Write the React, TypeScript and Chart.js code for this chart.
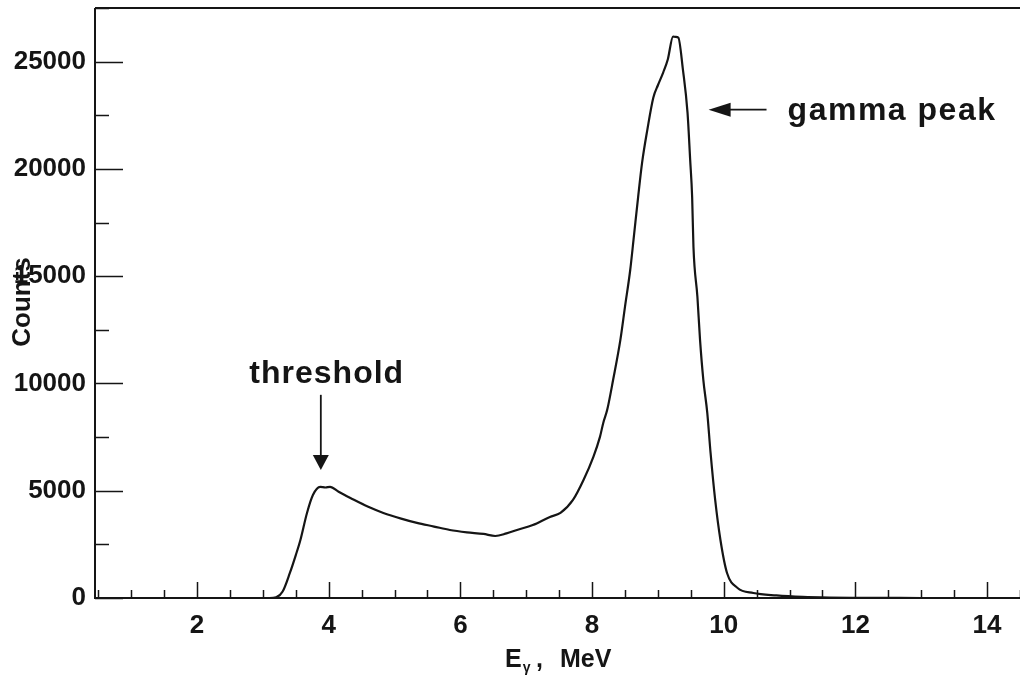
import React, { useEffect, useRef } from "react";
import { Chart, registerables } from "chart.js";

Chart.register(...registerables);

// Energy (MeV) of each read point
const energy: number[] = [
  0.45, 1, 2, 3, 3.1, 3.2, 3.3, 3.41, 3.5, 3.57, 3.67, 3.76, 3.87, 3.95, 4.02, 4.15,
  4.33, 4.6, 4.83, 5.1, 5.34, 5.6, 5.84, 6.1, 6.35, 6.53, 6.7, 6.86, 7.1, 7.36, 7.52,
  7.71, 7.87, 8.02, 8.12, 8.17, 8.23, 8.32, 8.43, 8.5, 8.58, 8.63, 8.7, 8.76, 8.84,
  8.93, 9.0, 9.08, 9.15, 9.23, 9.27, 9.31, 9.38, 9.45, 9.49, 9.52, 9.54, 9.6, 9.64,
  9.69, 9.75, 9.8, 9.87, 9.95, 10.05, 10.21, 10.45, 10.8, 11.2, 11.6, 12, 12.5, 13, 14.5,
];
// Counts at those energies
const counts: number[] = [
  0, 0, 0, 0, 0, 30, 300, 1166, 2000, 2705, 3965, 4800, 5180, 5150, 5180, 4950,
  4660, 4250, 3965, 3700, 3500, 3330, 3170, 3060, 2985, 2890, 3010, 3170, 3400, 3780, 3965,
  4570, 5500, 6580, 7510, 8160, 8770, 10170, 12030, 13570, 15300, 16700, 18700, 20290, 21830,
  23320, 23900, 24490, 25100, 26170, 26150, 26120, 24630, 22620, 20430, 18700, 16370, 14040, 12030,
  10170, 8630, 6760, 4570, 2705, 1166, 466, 233, 120, 50, 20, 10, 5, 0, 0,
];

const xTickLabels: number[] = [2, 4, 6, 8, 10, 12, 14];
const yTickLabels: number[] = [0, 5000, 10000, 15000, 20000, 25000];

const xMin = 0.45;
const xMax = 14.5;
const yMin = 0;
const yMax = 27500;

// Annotations (data coordinates)
const thresholdText = { label: "threshold", x: 3.97, y: 10030 };
const thresholdArrow = { x: 3.88, yFrom: 9470, yTo: 5970 };
const gammaText = { label: "gamma peak", x: 10.97, y: 22300 };
const gammaArrow = { y: 22760, xFrom: 10.65, xTo: 9.77 };

const FONT = '"Liberation Sans", Arial, Helvetica, sans-serif';
const INK = "#151515";

const decorPlugin = {
  id: "decor",
  afterDraw(chart: any) {
    const ctx = chart.ctx as CanvasRenderingContext2D;
    const { left, right, top, bottom } = chart.chartArea;
    const xs = chart.scales.x;
    const ys = chart.scales.y;
    ctx.save();
    ctx.strokeStyle = INK;
    ctx.fillStyle = INK;
    // frame
    ctx.lineWidth = 2;
    ctx.beginPath();
    ctx.moveTo(left, top);
    ctx.lineTo(right, top);
    ctx.moveTo(left, top);
    ctx.lineTo(left, bottom);
    ctx.lineTo(right, bottom);
    ctx.stroke();

    // inward ticks on x
    ctx.lineWidth = 1.5;
    ctx.beginPath();
    for (let k = 1; k <= 29; k++) {
      const v = k * 0.5;
      if (v < xMin || v > xMax) continue;
      const px = Math.round(xs.getPixelForValue(v)) + 0.5;
      const major = Math.abs(v / 2 - Math.round(v / 2)) < 1e-6;
      const len = major ? 16 : 8;
      ctx.moveTo(px, bottom);
      ctx.lineTo(px, bottom - len);
    }
    // inward ticks on y
    for (let v = 0; v <= yMax; v += 2500) {
      const py = Math.round(ys.getPixelForValue(v)) + 0.5;
      const major = v % 5000 === 0;
      const len = major ? 28 : 14;
      ctx.moveTo(left, py);
      ctx.lineTo(left + len, py);
    }
    ctx.stroke();

    // threshold annotation
    ctx.textBaseline = "alphabetic";
    ctx.font = `bold 32px ${FONT}`;
    (ctx as any).letterSpacing = "1px";
    ctx.textAlign = "center";
    ctx.fillText(thresholdText.label, xs.getPixelForValue(thresholdText.x), ys.getPixelForValue(thresholdText.y));
    const ax = xs.getPixelForValue(thresholdArrow.x);
    const ay0 = ys.getPixelForValue(thresholdArrow.yFrom);
    const ay1 = ys.getPixelForValue(thresholdArrow.yTo);
    ctx.lineWidth = 1.8;
    ctx.beginPath();
    ctx.moveTo(ax, ay0);
    ctx.lineTo(ax, ay1 - 12);
    ctx.stroke();
    ctx.beginPath();
    ctx.moveTo(ax - 8, ay1 - 15);
    ctx.lineTo(ax + 8, ay1 - 15);
    ctx.lineTo(ax, ay1);
    ctx.closePath();
    ctx.fill();

    // gamma peak annotation
    ctx.textAlign = "left";
    (ctx as any).letterSpacing = "1.5px";
    ctx.fillText(gammaText.label, xs.getPixelForValue(gammaText.x), ys.getPixelForValue(gammaText.y));
    (ctx as any).letterSpacing = "0px";
    const gy = ys.getPixelForValue(gammaArrow.y);
    const gx0 = xs.getPixelForValue(gammaArrow.xFrom);
    const gx1 = xs.getPixelForValue(gammaArrow.xTo);
    ctx.beginPath();
    ctx.moveTo(gx0, gy);
    ctx.lineTo(gx1 + 12, gy);
    ctx.stroke();
    ctx.beginPath();
    ctx.moveTo(gx1 + 22, gy - 7);
    ctx.lineTo(gx1 + 22, gy + 7);
    ctx.lineTo(gx1, gy);
    ctx.closePath();
    ctx.fill();

    // y axis title
    ctx.save();
    ctx.translate(30, 302);
    ctx.rotate(-Math.PI / 2);
    ctx.textAlign = "center";
    ctx.font = `bold 26px ${FONT}`;
    ctx.fillText("Counts", 0, 0);
    ctx.restore();

    // x axis title: E_gamma , MeV
    ctx.textAlign = "left";
    ctx.font = `bold 25px ${FONT}`;
    let tx = 505;
    const base = 667;
    ctx.fillText("E", tx, base);
    tx += ctx.measureText("E").width + 1;
    ctx.font = `bold 14px ${FONT}`;
    ctx.fillText("γ", tx, base + 5);
    ctx.font = `bold 25px ${FONT}`;
    ctx.fillText(",", 536, base);
    ctx.fillText("MeV", 560, base);
    ctx.restore();
  },
};

export default function App() {
  const ref = useRef<HTMLCanvasElement | null>(null);

  useEffect(() => {
    if (!ref.current) return;
    const data = energy.map((e, i) => ({ x: e, y: counts[i] }));
    const chart = new Chart(ref.current, {
      type: "line",
      data: {
        datasets: [
          {
            data,
            borderColor: INK,
            borderWidth: 2.2,
            pointRadius: 0,
            fill: false,
            cubicInterpolationMode: "monotone",
          },
        ],
      },
      options: {
        animation: false,
        responsive: true,
        maintainAspectRatio: false,
        layout: { padding: { top: 8, right: 0, bottom: 0, left: 0 } },
        plugins: { legend: { display: false }, tooltip: { enabled: false } },
        scales: {
          x: {
            type: "linear",
            min: xMin,
            max: xMax,
            grid: { display: false, drawTicks: false },
            border: { display: false },
            ticks: {
              stepSize: 0.5,
              autoSkip: false,
              maxRotation: 0,
              padding: 12,
              color: INK,
              font: { family: FONT, size: 26, weight: "bold" },
              callback: (v: any) => {
                const n = Number(v);
                return xTickLabels.some((t) => Math.abs(t - n) < 1e-6) ? String(Math.round(n)) : "";
              },
            },
            afterFit: (s: any) => {
              s.height = 78;
              s.paddingLeft = 0;
              s.paddingRight = 0;
              s.paddingTop = 0;
              s.paddingBottom = 0;
            },
          },
          y: {
            type: "linear",
            min: yMin,
            max: yMax,
            grid: { display: false, drawTicks: false },
            border: { display: false },
            ticks: {
              stepSize: 2500,
              autoSkip: false,
              padding: 9,
              color: INK,
              font: { family: FONT, size: 26, weight: "bold" },
              callback: (v: any) => {
                const n = Number(v);
                return yTickLabels.some((t) => Math.abs(t - n) < 1e-6) ? String(Math.round(n)) : "";
              },
            },
            afterFit: (s: any) => {
              s.width = 95;
              s.paddingLeft = 0;
              s.paddingRight = 0;
              s.paddingTop = 0;
              s.paddingBottom = 0;
            },
          },
        },
      },
      plugins: [decorPlugin],
    });
    return () => chart.destroy();
  }, []);

  return (
    <div style={{ position: "fixed", left: 0, top: 0, width: 1020, height: 676, background: "#fff" }}>
      <canvas ref={ref} />
    </div>
  );
}
